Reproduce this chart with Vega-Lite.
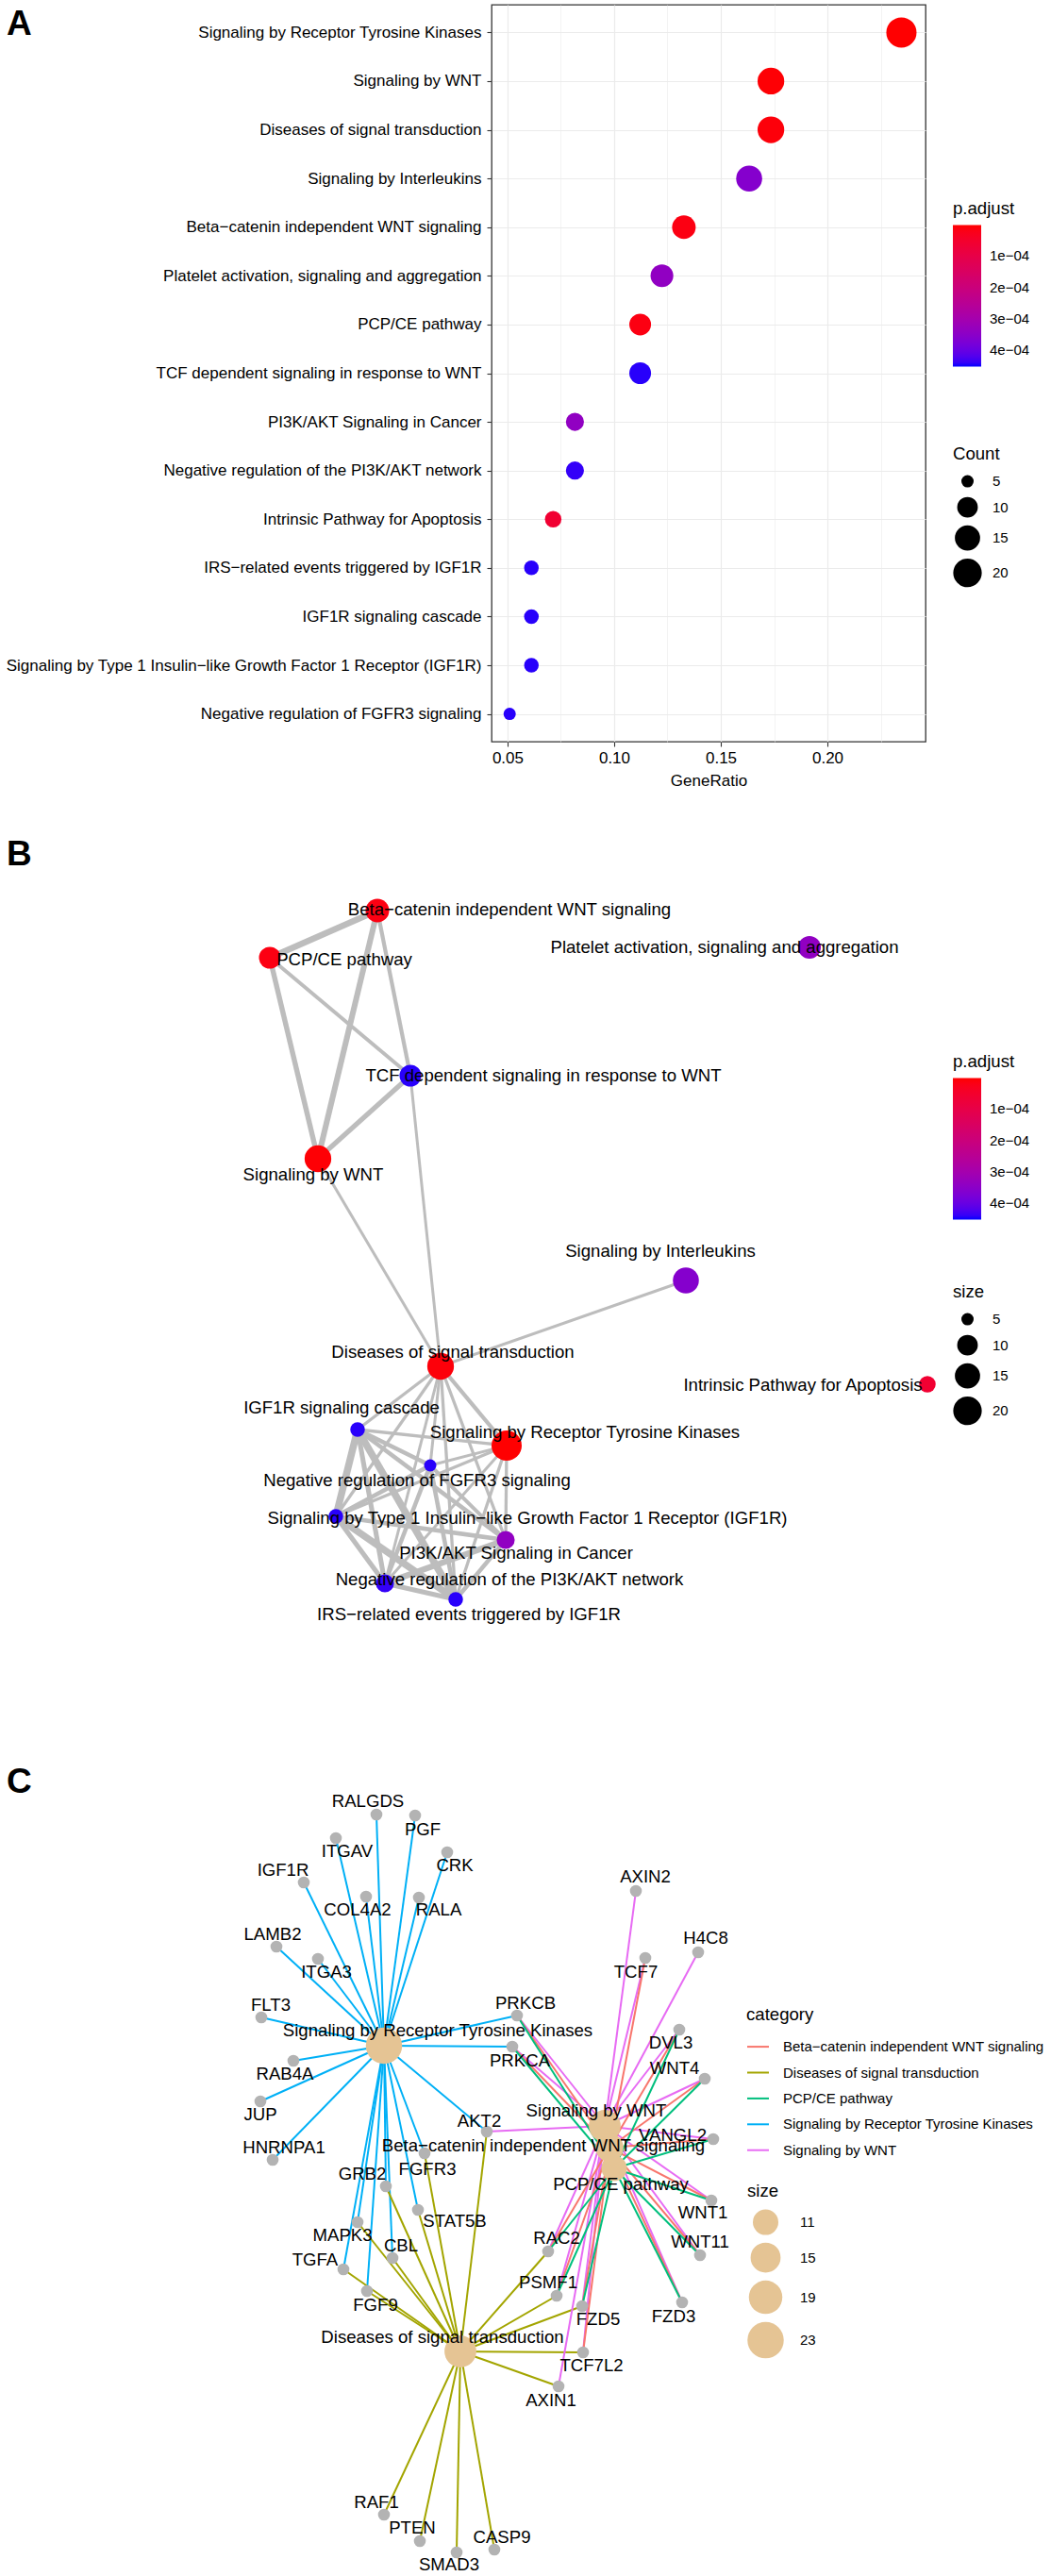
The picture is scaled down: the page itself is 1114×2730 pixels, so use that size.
{
  "$schema": "https://vega.github.io/schema/vega-lite/v6.json",
  "background": "white",
  "padding": {"left": 5, "top": 4, "right": 0, "bottom": 0},
  "config": {
    "font": "Liberation Sans",
    "view": {"stroke": null},
    "axis": {"labelFont": "Liberation Sans", "titleFont": "Liberation Sans"},
    "legend": {"labelFont": "Liberation Sans", "titleFont": "Liberation Sans"},
    "title": {"font": "Liberation Sans"}
  },
  "datasets": {
    "enrich": [
      {"Description": "Signaling by Receptor Tyrosine Kinases", "GeneRatio": 0.2347, "padj": 0.000002, "Count": 23},
      {"Description": "Signaling by WNT", "GeneRatio": 0.1735, "padj": 0.000005, "Count": 17},
      {"Description": "Diseases of signal transduction", "GeneRatio": 0.1735, "padj": 0.000008, "Count": 17},
      {"Description": "Signaling by Interleukins", "GeneRatio": 0.1633, "padj": 0.00036, "Count": 16},
      {"Description": "Beta−catenin independent WNT signaling", "GeneRatio": 0.1327, "padj": 0.000015, "Count": 13},
      {"Description": "Platelet activation, signaling and aggregation", "GeneRatio": 0.1224, "padj": 0.00034, "Count": 12},
      {"Description": "PCP/CE pathway", "GeneRatio": 0.1122, "padj": 0.000015, "Count": 11},
      {"Description": "TCF dependent signaling in response to WNT", "GeneRatio": 0.1122, "padj": 0.000445, "Count": 11},
      {"Description": "PI3K/AKT Signaling in Cancer", "GeneRatio": 0.0816, "padj": 0.00034, "Count": 8},
      {"Description": "Negative regulation of the PI3K/AKT network", "GeneRatio": 0.0816, "padj": 0.00044, "Count": 8},
      {"Description": "Intrinsic Pathway for Apoptosis", "GeneRatio": 0.0714, "padj": 0.00006, "Count": 7},
      {"Description": "IRS−related events triggered by IGF1R", "GeneRatio": 0.0612, "padj": 0.000445, "Count": 6},
      {"Description": "IGF1R signaling cascade", "GeneRatio": 0.0612, "padj": 0.000445, "Count": 6},
      {"Description": "Signaling by Type 1 Insulin−like Growth Factor 1 Receptor (IGF1R)", "GeneRatio": 0.0612, "padj": 0.000445, "Count": 6},
      {"Description": "Negative regulation of FGFR3 signaling", "GeneRatio": 0.051, "padj": 0.000445, "Count": 5}
    ],
    "bnodes": [
      {"name": "Beta−catenin independent WNT signaling", "x": 4.00, "y": 8.35, "lx": 5.40, "ly": 8.36},
      {"name": "PCP/CE pathway", "x": 2.86, "y": 7.85, "lx": 3.65, "ly": 7.83},
      {"name": "Platelet activation, signaling and aggregation", "x": 8.58, "y": 7.96, "lx": 7.68, "ly": 7.96},
      {"name": "TCF dependent signaling in response to WNT", "x": 4.35, "y": 6.60, "lx": 5.76, "ly": 6.60},
      {"name": "Signaling by WNT", "x": 3.37, "y": 5.72, "lx": 3.32, "ly": 5.55},
      {"name": "Signaling by Interleukins", "x": 7.27, "y": 4.43, "lx": 7.00, "ly": 4.74},
      {"name": "Diseases of signal transduction", "x": 4.67, "y": 3.52, "lx": 4.80, "ly": 3.67},
      {"name": "Intrinsic Pathway for Apoptosis", "x": 9.83, "y": 3.33, "lx": 8.51, "ly": 3.32},
      {"name": "IGF1R signaling cascade", "x": 3.79, "y": 2.85, "lx": 3.62, "ly": 3.08},
      {"name": "Signaling by Receptor Tyrosine Kinases", "x": 5.37, "y": 2.68, "lx": 6.20, "ly": 2.82},
      {"name": "Negative regulation of FGFR3 signaling", "x": 4.56, "y": 2.47, "lx": 4.42, "ly": 2.31},
      {"name": "Signaling by Type 1 Insulin−like Growth Factor 1 Receptor (IGF1R)", "x": 3.56, "y": 1.93, "lx": 5.59, "ly": 1.91},
      {"name": "PI3K/AKT Signaling in Cancer", "x": 5.36, "y": 1.68, "lx": 5.47, "ly": 1.54},
      {"name": "Negative regulation of the PI3K/AKT network", "x": 4.08, "y": 1.22, "lx": 5.40, "ly": 1.26},
      {"name": "IRS−related events triggered by IGF1R", "x": 4.83, "y": 1.05, "lx": 4.97, "ly": 0.89}
    ],
    "bedges": [
      {"source": "Beta−catenin independent WNT signaling", "target": "PCP/CE pathway", "similarity": 0.85},
      {"source": "Beta−catenin independent WNT signaling", "target": "Signaling by WNT", "similarity": 0.76},
      {"source": "PCP/CE pathway", "target": "Signaling by WNT", "similarity": 0.65},
      {"source": "Beta−catenin independent WNT signaling", "target": "TCF dependent signaling in response to WNT", "similarity": 0.45},
      {"source": "PCP/CE pathway", "target": "TCF dependent signaling in response to WNT", "similarity": 0.4},
      {"source": "Signaling by WNT", "target": "TCF dependent signaling in response to WNT", "similarity": 0.6},
      {"source": "Signaling by WNT", "target": "Diseases of signal transduction", "similarity": 0.25},
      {"source": "TCF dependent signaling in response to WNT", "target": "Diseases of signal transduction", "similarity": 0.25},
      {"source": "Signaling by Interleukins", "target": "Diseases of signal transduction", "similarity": 0.25},
      {"source": "Diseases of signal transduction", "target": "IGF1R signaling cascade", "similarity": 0.3},
      {"source": "Diseases of signal transduction", "target": "Signaling by Receptor Tyrosine Kinases", "similarity": 0.45},
      {"source": "Diseases of signal transduction", "target": "Negative regulation of FGFR3 signaling", "similarity": 0.25},
      {"source": "Diseases of signal transduction", "target": "Signaling by Type 1 Insulin−like Growth Factor 1 Receptor (IGF1R)", "similarity": 0.3},
      {"source": "Diseases of signal transduction", "target": "PI3K/AKT Signaling in Cancer", "similarity": 0.3},
      {"source": "Diseases of signal transduction", "target": "Negative regulation of the PI3K/AKT network", "similarity": 0.25},
      {"source": "Diseases of signal transduction", "target": "IRS−related events triggered by IGF1R", "similarity": 0.3},
      {"source": "IGF1R signaling cascade", "target": "Signaling by Receptor Tyrosine Kinases", "similarity": 0.3},
      {"source": "IGF1R signaling cascade", "target": "Negative regulation of FGFR3 signaling", "similarity": 0.5},
      {"source": "IGF1R signaling cascade", "target": "Signaling by Type 1 Insulin−like Growth Factor 1 Receptor (IGF1R)", "similarity": 1.0},
      {"source": "IGF1R signaling cascade", "target": "PI3K/AKT Signaling in Cancer", "similarity": 0.5},
      {"source": "IGF1R signaling cascade", "target": "Negative regulation of the PI3K/AKT network", "similarity": 0.6},
      {"source": "IGF1R signaling cascade", "target": "IRS−related events triggered by IGF1R", "similarity": 1.0},
      {"source": "Signaling by Receptor Tyrosine Kinases", "target": "Negative regulation of FGFR3 signaling", "similarity": 0.25},
      {"source": "Signaling by Receptor Tyrosine Kinases", "target": "Signaling by Type 1 Insulin−like Growth Factor 1 Receptor (IGF1R)", "similarity": 0.3},
      {"source": "Signaling by Receptor Tyrosine Kinases", "target": "PI3K/AKT Signaling in Cancer", "similarity": 0.3},
      {"source": "Signaling by Receptor Tyrosine Kinases", "target": "Negative regulation of the PI3K/AKT network", "similarity": 0.25},
      {"source": "Signaling by Receptor Tyrosine Kinases", "target": "IRS−related events triggered by IGF1R", "similarity": 0.3},
      {"source": "Negative regulation of FGFR3 signaling", "target": "Signaling by Type 1 Insulin−like Growth Factor 1 Receptor (IGF1R)", "similarity": 0.5},
      {"source": "Negative regulation of FGFR3 signaling", "target": "PI3K/AKT Signaling in Cancer", "similarity": 0.4},
      {"source": "Negative regulation of FGFR3 signaling", "target": "Negative regulation of the PI3K/AKT network", "similarity": 0.5},
      {"source": "Negative regulation of FGFR3 signaling", "target": "IRS−related events triggered by IGF1R", "similarity": 0.5},
      {"source": "Signaling by Type 1 Insulin−like Growth Factor 1 Receptor (IGF1R)", "target": "PI3K/AKT Signaling in Cancer", "similarity": 0.5},
      {"source": "Signaling by Type 1 Insulin−like Growth Factor 1 Receptor (IGF1R)", "target": "Negative regulation of the PI3K/AKT network", "similarity": 0.6},
      {"source": "Signaling by Type 1 Insulin−like Growth Factor 1 Receptor (IGF1R)", "target": "IRS−related events triggered by IGF1R", "similarity": 1.0},
      {"source": "PI3K/AKT Signaling in Cancer", "target": "Negative regulation of the PI3K/AKT network", "similarity": 0.8},
      {"source": "PI3K/AKT Signaling in Cancer", "target": "IRS−related events triggered by IGF1R", "similarity": 0.5},
      {"source": "Negative regulation of the PI3K/AKT network", "target": "IRS−related events triggered by IGF1R", "similarity": 0.6}
    ],
    "cnodes": [
      {"name": "Signaling by Receptor Tyrosine Kinases", "type": "category", "x": 4.07, "y": 5.62, "lx": 4.64, "ly": 5.78, "Count": 23},
      {"name": "Diseases of signal transduction", "type": "category", "x": 4.88, "y": 2.38, "lx": 4.69, "ly": 2.53, "Count": 17},
      {"name": "Signaling by WNT", "type": "category", "x": 6.41, "y": 4.77, "lx": 6.32, "ly": 4.93, "Count": 17},
      {"name": "Beta−catenin independent WNT signaling", "type": "category", "x": 6.46, "y": 4.54, "lx": 5.76, "ly": 4.56, "Count": 13},
      {"name": "PCP/CE pathway", "type": "category", "x": 6.51, "y": 4.32, "lx": 6.58, "ly": 4.15, "Count": 11},
      {"name": "RALGDS", "type": "gene", "x": 3.99, "y": 8.07, "lx": 3.90, "ly": 8.21},
      {"name": "PGF", "type": "gene", "x": 4.40, "y": 8.06, "lx": 4.48, "ly": 7.91},
      {"name": "ITGAV", "type": "gene", "x": 3.56, "y": 7.82, "lx": 3.68, "ly": 7.68},
      {"name": "CRK", "type": "gene", "x": 4.74, "y": 7.67, "lx": 4.82, "ly": 7.53},
      {"name": "IGF1R", "type": "gene", "x": 3.22, "y": 7.35, "lx": 3.00, "ly": 7.48},
      {"name": "COL4A2", "type": "gene", "x": 3.88, "y": 7.20, "lx": 3.79, "ly": 7.06},
      {"name": "RALA", "type": "gene", "x": 4.44, "y": 7.19, "lx": 4.65, "ly": 7.06},
      {"name": "LAMB2", "type": "gene", "x": 2.93, "y": 6.67, "lx": 2.89, "ly": 6.80},
      {"name": "ITGA3", "type": "gene", "x": 3.37, "y": 6.54, "lx": 3.46, "ly": 6.40},
      {"name": "FLT3", "type": "gene", "x": 2.77, "y": 5.92, "lx": 2.87, "ly": 6.05},
      {"name": "PRKCB", "type": "gene", "x": 5.48, "y": 5.94, "lx": 5.57, "ly": 6.07},
      {"name": "PRKCA", "type": "gene", "x": 5.43, "y": 5.61, "lx": 5.51, "ly": 5.46},
      {"name": "RAB4A", "type": "gene", "x": 3.11, "y": 5.46, "lx": 3.02, "ly": 5.32},
      {"name": "JUP", "type": "gene", "x": 2.76, "y": 5.03, "lx": 2.76, "ly": 4.89},
      {"name": "AKT2", "type": "gene", "x": 5.16, "y": 4.71, "lx": 5.08, "ly": 4.82},
      {"name": "HNRNPA1", "type": "gene", "x": 2.89, "y": 4.41, "lx": 3.01, "ly": 4.54},
      {"name": "FGFR3", "type": "gene", "x": 4.50, "y": 4.48, "lx": 4.53, "ly": 4.31},
      {"name": "GRB2", "type": "gene", "x": 4.09, "y": 4.13, "lx": 3.84, "ly": 4.26},
      {"name": "STAT5B", "type": "gene", "x": 4.43, "y": 3.88, "lx": 4.82, "ly": 3.76},
      {"name": "MAPK3", "type": "gene", "x": 3.79, "y": 3.75, "lx": 3.63, "ly": 3.61},
      {"name": "CBL", "type": "gene", "x": 4.16, "y": 3.37, "lx": 4.25, "ly": 3.50},
      {"name": "TGFA", "type": "gene", "x": 3.64, "y": 3.25, "lx": 3.34, "ly": 3.35},
      {"name": "FGF9", "type": "gene", "x": 3.89, "y": 3.02, "lx": 3.98, "ly": 2.87},
      {"name": "RAF1", "type": "gene", "x": 4.07, "y": 0.65, "lx": 3.99, "ly": 0.78},
      {"name": "PTEN", "type": "gene", "x": 4.45, "y": 0.37, "lx": 4.37, "ly": 0.51},
      {"name": "SMAD3", "type": "gene", "x": 4.84, "y": 0.25, "lx": 4.76, "ly": 0.12},
      {"name": "CASP9", "type": "gene", "x": 5.24, "y": 0.28, "lx": 5.32, "ly": 0.41},
      {"name": "AXIN2", "type": "gene", "x": 6.74, "y": 7.26, "lx": 6.84, "ly": 7.41},
      {"name": "H4C8", "type": "gene", "x": 7.40, "y": 6.61, "lx": 7.48, "ly": 6.76},
      {"name": "TCF7", "type": "gene", "x": 6.84, "y": 6.55, "lx": 6.74, "ly": 6.40},
      {"name": "DVL3", "type": "gene", "x": 7.20, "y": 5.79, "lx": 7.11, "ly": 5.65},
      {"name": "WNT4", "type": "gene", "x": 7.47, "y": 5.27, "lx": 7.15, "ly": 5.38},
      {"name": "VANGL2", "type": "gene", "x": 7.56, "y": 4.63, "lx": 7.13, "ly": 4.67},
      {"name": "WNT1", "type": "gene", "x": 7.54, "y": 3.98, "lx": 7.45, "ly": 3.85},
      {"name": "WNT11", "type": "gene", "x": 7.42, "y": 3.40, "lx": 7.42, "ly": 3.54},
      {"name": "RAC2", "type": "gene", "x": 5.81, "y": 3.44, "lx": 5.90, "ly": 3.58},
      {"name": "PSMF1", "type": "gene", "x": 5.90, "y": 2.97, "lx": 5.81, "ly": 3.11},
      {"name": "FZD5", "type": "gene", "x": 6.17, "y": 2.86, "lx": 6.34, "ly": 2.72},
      {"name": "FZD3", "type": "gene", "x": 7.23, "y": 2.90, "lx": 7.14, "ly": 2.75},
      {"name": "TCF7L2", "type": "gene", "x": 6.18, "y": 2.37, "lx": 6.27, "ly": 2.23},
      {"name": "AXIN1", "type": "gene", "x": 5.92, "y": 2.01, "lx": 5.84, "ly": 1.86}
    ],
    "cedges": [
      {"category": "Signaling by Receptor Tyrosine Kinases", "gene": "RALGDS"},
      {"category": "Signaling by Receptor Tyrosine Kinases", "gene": "PGF"},
      {"category": "Signaling by Receptor Tyrosine Kinases", "gene": "ITGAV"},
      {"category": "Signaling by Receptor Tyrosine Kinases", "gene": "CRK"},
      {"category": "Signaling by Receptor Tyrosine Kinases", "gene": "IGF1R"},
      {"category": "Signaling by Receptor Tyrosine Kinases", "gene": "COL4A2"},
      {"category": "Signaling by Receptor Tyrosine Kinases", "gene": "RALA"},
      {"category": "Signaling by Receptor Tyrosine Kinases", "gene": "LAMB2"},
      {"category": "Signaling by Receptor Tyrosine Kinases", "gene": "ITGA3"},
      {"category": "Signaling by Receptor Tyrosine Kinases", "gene": "FLT3"},
      {"category": "Signaling by Receptor Tyrosine Kinases", "gene": "RAB4A"},
      {"category": "Signaling by Receptor Tyrosine Kinases", "gene": "JUP"},
      {"category": "Signaling by Receptor Tyrosine Kinases", "gene": "HNRNPA1"},
      {"category": "Signaling by Receptor Tyrosine Kinases", "gene": "PRKCB"},
      {"category": "Signaling by Receptor Tyrosine Kinases", "gene": "PRKCA"},
      {"category": "Signaling by Receptor Tyrosine Kinases", "gene": "AKT2"},
      {"category": "Signaling by Receptor Tyrosine Kinases", "gene": "GRB2"},
      {"category": "Signaling by Receptor Tyrosine Kinases", "gene": "FGFR3"},
      {"category": "Signaling by Receptor Tyrosine Kinases", "gene": "STAT5B"},
      {"category": "Signaling by Receptor Tyrosine Kinases", "gene": "MAPK3"},
      {"category": "Signaling by Receptor Tyrosine Kinases", "gene": "CBL"},
      {"category": "Signaling by Receptor Tyrosine Kinases", "gene": "TGFA"},
      {"category": "Signaling by Receptor Tyrosine Kinases", "gene": "FGF9"},
      {"category": "Diseases of signal transduction", "gene": "AKT2"},
      {"category": "Diseases of signal transduction", "gene": "FGFR3"},
      {"category": "Diseases of signal transduction", "gene": "GRB2"},
      {"category": "Diseases of signal transduction", "gene": "STAT5B"},
      {"category": "Diseases of signal transduction", "gene": "MAPK3"},
      {"category": "Diseases of signal transduction", "gene": "CBL"},
      {"category": "Diseases of signal transduction", "gene": "TGFA"},
      {"category": "Diseases of signal transduction", "gene": "FGF9"},
      {"category": "Diseases of signal transduction", "gene": "RAC2"},
      {"category": "Diseases of signal transduction", "gene": "PSMF1"},
      {"category": "Diseases of signal transduction", "gene": "FZD5"},
      {"category": "Diseases of signal transduction", "gene": "TCF7L2"},
      {"category": "Diseases of signal transduction", "gene": "AXIN1"},
      {"category": "Diseases of signal transduction", "gene": "RAF1"},
      {"category": "Diseases of signal transduction", "gene": "PTEN"},
      {"category": "Diseases of signal transduction", "gene": "SMAD3"},
      {"category": "Diseases of signal transduction", "gene": "CASP9"},
      {"category": "Signaling by WNT", "gene": "AXIN2"},
      {"category": "Signaling by WNT", "gene": "H4C8"},
      {"category": "Signaling by WNT", "gene": "TCF7"},
      {"category": "Signaling by WNT", "gene": "DVL3"},
      {"category": "Signaling by WNT", "gene": "WNT4"},
      {"category": "Signaling by WNT", "gene": "VANGL2"},
      {"category": "Signaling by WNT", "gene": "AKT2"},
      {"category": "Signaling by WNT", "gene": "PRKCB"},
      {"category": "Signaling by WNT", "gene": "PRKCA"},
      {"category": "Signaling by WNT", "gene": "RAC2"},
      {"category": "Signaling by WNT", "gene": "PSMF1"},
      {"category": "Signaling by WNT", "gene": "FZD5"},
      {"category": "Signaling by WNT", "gene": "TCF7L2"},
      {"category": "Signaling by WNT", "gene": "AXIN1"},
      {"category": "Signaling by WNT", "gene": "WNT1"},
      {"category": "Signaling by WNT", "gene": "WNT11"},
      {"category": "Signaling by WNT", "gene": "FZD3"},
      {"category": "Beta−catenin independent WNT signaling", "gene": "TCF7"},
      {"category": "Beta−catenin independent WNT signaling", "gene": "DVL3"},
      {"category": "Beta−catenin independent WNT signaling", "gene": "WNT4"},
      {"category": "Beta−catenin independent WNT signaling", "gene": "VANGL2"},
      {"category": "Beta−catenin independent WNT signaling", "gene": "PRKCB"},
      {"category": "Beta−catenin independent WNT signaling", "gene": "PRKCA"},
      {"category": "Beta−catenin independent WNT signaling", "gene": "RAC2"},
      {"category": "Beta−catenin independent WNT signaling", "gene": "PSMF1"},
      {"category": "Beta−catenin independent WNT signaling", "gene": "FZD5"},
      {"category": "Beta−catenin independent WNT signaling", "gene": "TCF7L2"},
      {"category": "Beta−catenin independent WNT signaling", "gene": "WNT1"},
      {"category": "Beta−catenin independent WNT signaling", "gene": "WNT11"},
      {"category": "Beta−catenin independent WNT signaling", "gene": "FZD3"},
      {"category": "PCP/CE pathway", "gene": "DVL3"},
      {"category": "PCP/CE pathway", "gene": "WNT4"},
      {"category": "PCP/CE pathway", "gene": "VANGL2"},
      {"category": "PCP/CE pathway", "gene": "PRKCB"},
      {"category": "PCP/CE pathway", "gene": "PRKCA"},
      {"category": "PCP/CE pathway", "gene": "RAC2"},
      {"category": "PCP/CE pathway", "gene": "PSMF1"},
      {"category": "PCP/CE pathway", "gene": "FZD5"},
      {"category": "PCP/CE pathway", "gene": "WNT1"},
      {"category": "PCP/CE pathway", "gene": "WNT11"},
      {"category": "PCP/CE pathway", "gene": "FZD3"}
    ]
  },
  "concat": [
    {
      "width": 460,
      "height": 781,
      "view": {"stroke": "#333333", "strokeWidth": 1.3},
      "title": {"text": "A", "anchor": "start", "frame": "bounds", "fontSize": 37, "fontWeight": "bold", "color": "black", "offset": -69, "baseline": "alphabetic", "dx": 1},
      "data": {"name": "enrich"},
      "mark": {"type": "circle", "opacity": 1},
      "encoding": {
        "x": {
          "field": "GeneRatio", "type": "quantitative",
          "scale": {"domain": [0.0425, 0.246], "nice": false, "zero": false},
          "axis": {
            "title": "GeneRatio", "titleFontSize": 17, "titleFontWeight": "normal", "titleColor": "black", "titlePadding": 8,
            "values": [0.05, 0.075, 0.1, 0.125, 0.15, 0.175, 0.2, 0.225],
            "labelExpr": "round(datum.value*1000) % 50 == 0 ? format(datum.value, '.2f') : ''",
            "labelFontSize": 17, "labelColor": "black", "labelPadding": 4,
            "tickSize": 5, "tickColor": "#333333", "tickWidth": 1.1,
            "tickOpacity": {"condition": {"test": "round(datum.value*1000) % 50 == 0", "value": 1}, "value": 0},
            "grid": true, "gridColor": "#EBEBEB",
            "gridWidth": {"condition": {"test": "round(datum.value*1000) % 50 == 0", "value": 1.2}, "value": 0.6},
            "domain": false
          }
        },
        "y": {
          "field": "Description", "type": "nominal", "sort": null,
          "scale": {"type": "point", "padding": 0.57},
          "axis": {
            "title": null,
            "labelFontSize": 17, "labelColor": "black", "labelLimit": 1000, "labelPadding": 6,
            "tickSize": 5, "tickColor": "#333333", "tickWidth": 1.1,
            "grid": true, "gridColor": "#EBEBEB", "gridWidth": 1.2, "domain": false
          }
        },
        "color": {
          "field": "padj", "type": "quantitative",
          "scale": {"domain": [0.000453, 0.000001], "range": ["blue", "red"], "interpolate": "lab", "nice": false, "zero": false},
          "legend": {
            "title": "p.adjust", "orient": "none", "legendX": 489, "legendY": 207, "padding": 0,
            "titleFontSize": 18.6, "titleFontWeight": "normal", "titleColor": "black", "titlePadding": 8,
            "gradientLength": 150, "gradientThickness": 30, "gradientStrokeWidth": 0,
            "values": [0.0001, 0.0002, 0.0003, 0.0004],
            "labelExpr": "replace(format(datum.value, '.0e'), 'e-', 'e−0')",
            "labelFontSize": 15, "labelColor": "black", "labelOffset": 9
          }
        },
        "size": {
          "field": "Count", "type": "quantitative",
          "scale": {"type": "pow", "exponent": 0.5, "domain": [5, 23], "range": [169, 1024], "zero": false, "nice": false},
          "legend": {
            "title": "Count", "orient": "none", "legendX": 489, "legendY": 467, "padding": 0,
            "titleFontSize": 18.6, "titleFontWeight": "normal", "titleColor": "black", "titlePadding": 12,
            "values": [5, 10, 15, 20], "symbolType": "circle", "symbolFillColor": "black", "symbolStrokeWidth": 0, "symbolOpacity": 1,
            "labelFontSize": 15, "labelColor": "black", "labelOffset": 11, "rowPadding": 8, "gridAlign": "each"
          }
        }
      }
    },
    {
      "width": 593,
      "height": 942,
      "view": {"stroke": null},
      "title": {"text": "B", "anchor": "start", "frame": "group", "fontSize": 37, "fontWeight": "bold", "color": "black", "offset": -95.5, "baseline": "alphabetic", "dx": -514},
      "layer": [
        {
          "data": {"name": "bedges"},
          "transform": [
            {"lookup": "source", "from": {"data": {"name": "bnodes"}, "key": "name", "fields": ["x", "y"]}, "as": ["sx", "sy"]},
            {"lookup": "target", "from": {"data": {"name": "bnodes"}, "key": "name", "fields": ["x", "y"]}, "as": ["tx", "ty"]}
          ],
          "mark": {"type": "rule", "color": "#BDBDBD"},
          "encoding": {
            "x": {"field": "sx", "type": "quantitative", "scale": {"domain": [5.21, 11.14], "nice": false, "zero": false}, "axis": null},
            "y": {"field": "sy", "type": "quantitative", "scale": {"domain": [0, 9.42], "nice": false, "zero": false}, "axis": null},
            "x2": {"field": "tx"},
            "y2": {"field": "ty"},
            "strokeWidth": {"field": "similarity", "type": "quantitative", "scale": {"domain": [0, 1], "range": [1.5, 7.5]}, "legend": null}
          }
        },
        {
          "data": {"name": "bnodes"},
          "transform": [
            {"lookup": "name", "from": {"data": {"name": "enrich"}, "key": "Description", "fields": ["padj", "Count"]}}
          ],
          "mark": {"type": "circle", "opacity": 1},
          "encoding": {
            "x": {"field": "x", "type": "quantitative", "axis": null},
            "y": {"field": "y", "type": "quantitative", "axis": null},
            "color": {
              "field": "padj", "type": "quantitative",
              "scale": {"domain": [0.000453, 0.000001], "range": ["blue", "red"], "interpolate": "lab", "nice": false, "zero": false},
              "legend": {
                "title": "p.adjust", "orient": "none", "legendX": 489, "legendY": 258, "padding": 0,
                "titleFontSize": 18.6, "titleFontWeight": "normal", "titleColor": "black", "titlePadding": 8,
                "gradientLength": 150, "gradientThickness": 30, "gradientStrokeWidth": 0,
                "values": [0.0001, 0.0002, 0.0003, 0.0004],
                "labelExpr": "replace(format(datum.value, '.0e'), 'e-', 'e−0')",
                "labelFontSize": 15, "labelColor": "black", "labelOffset": 9
              }
            },
            "size": {
              "field": "Count", "type": "quantitative",
              "scale": {"type": "pow", "exponent": 0.5, "domain": [5, 23], "range": [169, 1024], "zero": false, "nice": false},
              "legend": {
                "title": "size", "orient": "none", "legendX": 489, "legendY": 502, "padding": 0,
                "titleFontSize": 18.6, "titleFontWeight": "normal", "titleColor": "black", "titlePadding": 12,
                "values": [5, 10, 15, 20], "symbolType": "circle", "symbolFillColor": "black", "symbolStrokeWidth": 0, "symbolOpacity": 1,
                "labelFontSize": 15, "labelColor": "black", "labelOffset": 11, "rowPadding": 8, "gridAlign": "each"
              }
            }
          }
        },
        {
          "data": {"name": "bnodes"},
          "mark": {"type": "text", "fontSize": 18.6, "color": "black", "align": "center", "baseline": "middle"},
          "encoding": {
            "x": {"field": "lx", "type": "quantitative", "axis": null},
            "y": {"field": "ly", "type": "quantitative", "axis": null},
            "text": {"field": "name"}
          }
        }
      ]
    },
    {
      "width": 593,
      "height": 908,
      "view": {"stroke": null},
      "title": {"text": "C", "anchor": "start", "frame": "group", "fontSize": 37, "fontWeight": "bold", "color": "black", "offset": -115, "baseline": "alphabetic", "dx": -514},
      "layer": [
        {
          "data": {"name": "cedges"},
          "transform": [
            {"lookup": "gene", "from": {"data": {"name": "cnodes"}, "key": "name", "fields": ["x", "y"]}, "as": ["gx", "gy"]},
            {"lookup": "category", "from": {"data": {"name": "cnodes"}, "key": "name", "fields": ["x", "y"]}, "as": ["hx", "hy"]}
          ],
          "mark": {"type": "rule", "strokeWidth": 2},
          "encoding": {
            "x": {"field": "gx", "type": "quantitative", "scale": {"domain": [5.21, 11.14], "nice": false, "zero": false}, "axis": null},
            "y": {"field": "gy", "type": "quantitative", "scale": {"domain": [0, 9.08], "nice": false, "zero": false}, "axis": null},
            "x2": {"field": "hx"},
            "y2": {"field": "hy"},
            "color": {
              "field": "category", "type": "nominal",
              "scale": {
                "domain": ["Beta−catenin independent WNT signaling", "Diseases of signal transduction", "PCP/CE pathway", "Signaling by Receptor Tyrosine Kinases", "Signaling by WNT"],
                "range": ["#F8766D", "#A3A500", "#00BF7D", "#00B0F6", "#E76BF3"]
              },
              "legend": {
                "title": "category", "orient": "none", "legendX": 270, "legendY": 304, "padding": 0,
                "titleFontSize": 18.6, "titleFontWeight": "normal", "titleColor": "black", "titlePadding": 12,
                "symbolType": "stroke", "symbolSize": 529, "symbolStrokeWidth": 2,
                "labelFontSize": 15, "labelColor": "black", "labelOffset": 14, "labelLimit": 500, "rowPadding": 6.4
              }
            }
          }
        },
        {
          "data": {"name": "cnodes"},
          "transform": [{"filter": "datum.type == 'gene'"}],
          "mark": {"type": "circle", "size": 160, "color": "#B3B3B3", "opacity": 1},
          "encoding": {
            "x": {"field": "x", "type": "quantitative", "axis": null},
            "y": {"field": "y", "type": "quantitative", "axis": null}
          }
        },
        {
          "data": {"name": "cnodes"},
          "transform": [{"filter": "datum.type == 'category'"}],
          "mark": {"type": "circle", "color": "#E5C494", "opacity": 1},
          "encoding": {
            "x": {"field": "x", "type": "quantitative", "axis": null},
            "y": {"field": "y", "type": "quantitative", "axis": null},
            "size": {
              "field": "Count", "type": "quantitative",
              "scale": {"type": "pow", "exponent": 0.5, "domain": [11, 23], "range": [729, 1482], "zero": false, "nice": false},
              "legend": {
                "title": "size", "orient": "none", "legendX": 271, "legendY": 491, "padding": 0,
                "titleFontSize": 18.6, "titleFontWeight": "normal", "titleColor": "black", "titlePadding": 10,
                "values": [11, 15, 19, 23], "symbolType": "circle", "symbolStrokeWidth": 0, "symbolOpacity": 1,
                "labelFontSize": 15, "labelColor": "black", "labelOffset": 17, "rowPadding": 8, "gridAlign": "each",
                "encode": {"symbols": {"update": {"fill": {"value": "black"}, "opacity": {"value": 1}}}}
              }
            }
          }
        },
        {
          "data": {"name": "cnodes"},
          "mark": {"type": "text", "fontSize": 18.6, "color": "black", "align": "center", "baseline": "middle"},
          "encoding": {
            "x": {"field": "lx", "type": "quantitative", "axis": null},
            "y": {"field": "ly", "type": "quantitative", "axis": null},
            "text": {"field": "name"}
          }
        }
      ]
    }
  ],
  "columns": 1,
  "spacing": 22,
  "resolve": {
    "scale": {"x": "independent", "y": "independent", "color": "independent", "size": "independent", "strokeWidth": "independent"},
    "legend": {"color": "independent", "size": "independent"}
  }
}
